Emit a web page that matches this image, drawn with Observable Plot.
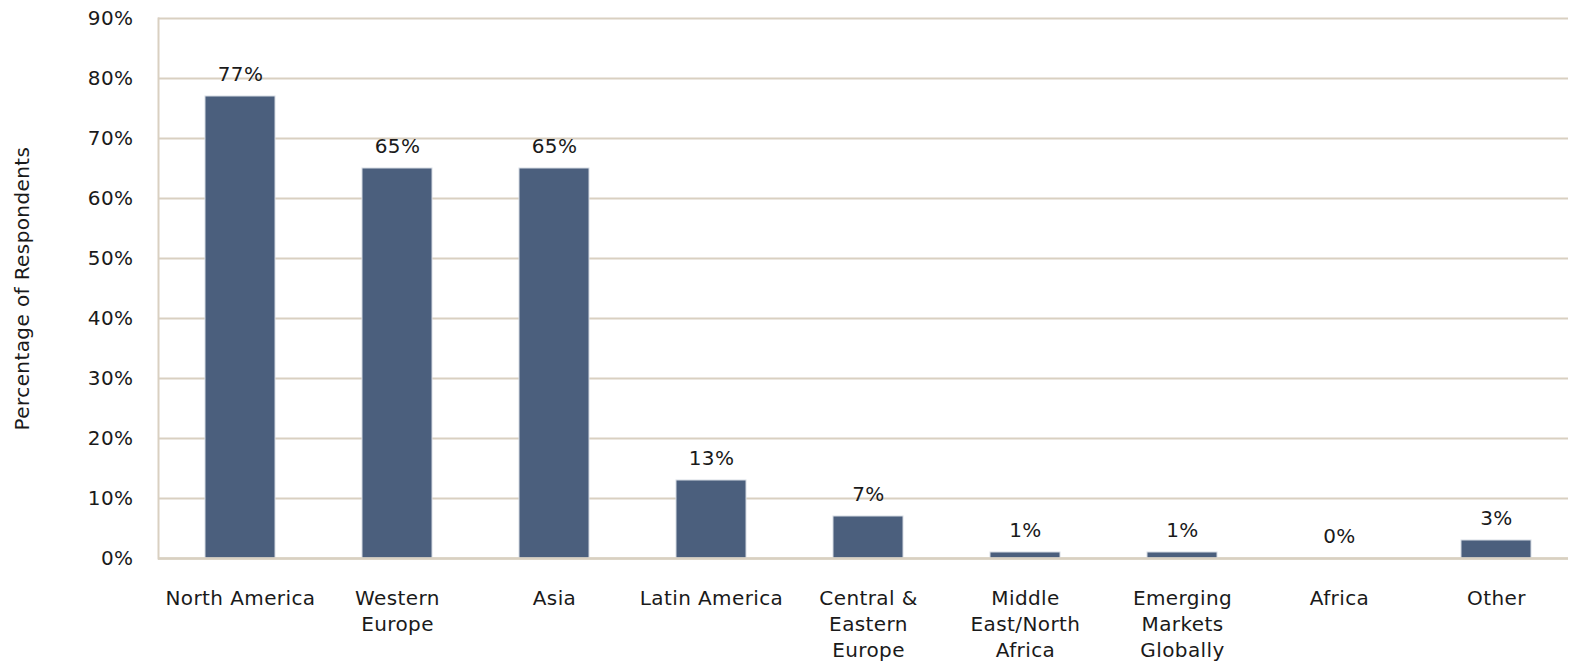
<!DOCTYPE html>
<html>
<head>
<meta charset="utf-8">
<script src="https://cdn.jsdelivr.net/npm/d3@7"></script>
<script src="https://cdn.jsdelivr.net/npm/@observablehq/plot@0.6"></script>
<style>
  html, body { margin: 0; padding: 0; background: #fff; }
  #chart svg { display: block; }
</style>
</head>
<body>
<div id="chart"></div>
<script>
const regions = ["North America", "Western\nEurope", "Asia", "Latin America", "Central &\nEastern\nEurope", "Middle\nEast/North\nAfrica", "Emerging\nMarkets\nGlobally", "Africa", "Other"];
const shares = [77, 65, 65, 13, 7, 1, 1, 0, 3];
const yTicks = [0, 10, 20, 30, 40, 50, 60, 70, 80, 90];
const yTitle = "Percentage of Respondents";

const data = regions.map((r, i) => ({region: r, value: shares[i]}));

const gridColor = "#d9d0c1";
const chart = Plot.plot({
  width: 1570,
  height: 661,
  marginLeft: 158,
  marginRight: 2,
  marginTop: 18,
  marginBottom: 103,
  style: {fontFamily: "DejaVu Sans", fontSize: "20px", color: "#1a1a1a", background: "#fff", letterSpacing: "0.4px"},
  x: {domain: regions, range: [158, 1578], paddingInner: 0.554, paddingOuter: 0.283, label: null},
  y: {domain: [0, 90], label: null},
  marks: [
    Plot.gridY(yTicks, {stroke: gridColor, strokeOpacity: 1, strokeWidth: 2}),
    Plot.frame({anchor: "left", stroke: gridColor, strokeWidth: 2}),
    Plot.barY(data, {x: "region", y: "value", fill: "#4b5f7d", stroke: "#d6dbe3", strokeWidth: 1}),
    Plot.ruleY([0], {stroke: gridColor, strokeWidth: 2.5}),
    Plot.text(data, {x: "region", y: "value", text: d => d.value + "%", dy: -22, fontSize: 20, fill: "#1a1a1a"}),
    Plot.axisY(yTicks, {tickSize: 0, tickPadding: 25, tickFormat: d => d + "%", fontSize: 20, label: null}),
    Plot.axisX({tickSize: 0, tickPadding: 28, fontSize: 20, lineHeight: 1.3, label: null, lineAnchor: "top"}),
    Plot.text([yTitle], {frameAnchor: "left", textAnchor: "middle", dx: -136, rotate: -90, fontSize: 20, fill: "#1a1a1a"})
  ]
});
document.getElementById("chart").appendChild(chart);
</script>
</body>
</html>
